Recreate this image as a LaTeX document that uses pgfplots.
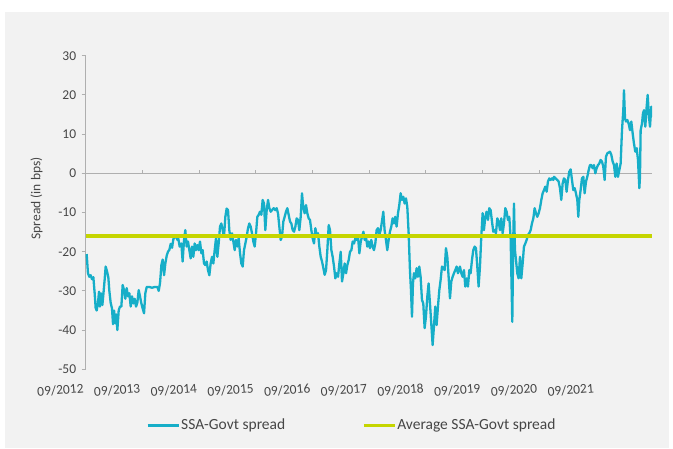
\documentclass[border=0pt]{standalone}
\usepackage{pgfplots}
\pgfplotsset{compat=1.18}
\usepackage{fontspec}
\setmainfont{Carlito}
\definecolor{panel}{RGB}{242,242,242}
\definecolor{ssacol}{RGB}{22,174,200}
\definecolor{avgcol}{RGB}{197,213,0}
\definecolor{txt}{RGB}{70,70,70}
\definecolor{axgray}{RGB}{175,175,175}
\pgfplotstableread{
t v
0.017 -20.6
0.040 -25.5
0.064 -26.4
0.088 -26.0
0.111 -27.0
0.135 -26.5
0.158 -30.6
0.176 -34.4
0.194 -35.0
0.217 -33.0
0.235 -30.2
0.252 -34.0
0.270 -30.6
0.294 -33.6
0.311 -31.0
0.335 -27.0
0.352 -23.8
0.376 -25.0
0.399 -26.5
0.417 -30.0
0.440 -33.0
0.464 -34.5
0.482 -38.5
0.500 -35.0
0.523 -38.3
0.541 -36.0
0.558 -40.0
0.582 -35.0
0.605 -34.0
0.629 -34.0
0.652 -28.5
0.676 -29.8
0.699 -32.0
0.723 -29.3
0.746 -31.4
0.770 -30.6
0.794 -34.0
0.817 -31.4
0.841 -33.2
0.864 -32.0
0.888 -34.0
0.911 -33.0
0.935 -29.8
0.958 -31.4
0.982 -33.2
1.005 -34.5
1.029 -35.7
1.052 -30.6
1.076 -29.0
1.123 -29.0
1.170 -29.2
1.217 -29.0
1.264 -29.0
1.288 -30.0
1.311 -28.0
1.335 -23.4
1.358 -22.0
1.382 -26.0
1.405 -23.0
1.429 -21.0
1.452 -20.0
1.476 -19.5
1.499 -18.0
1.523 -19.0
1.546 -16.8
1.570 -16.3
1.594 -16.0
1.617 -17.0
1.628 -16.2
1.657 -18.7
1.687 -17.9
1.710 -22.5
1.734 -17.0
1.757 -14.5
1.781 -18.7
1.804 -17.4
1.828 -19.6
1.851 -21.7
1.875 -18.7
1.898 -21.3
1.922 -17.9
1.946 -19.6
1.969 -18.3
1.993 -19.6
2.016 -17.4
2.040 -20.4
2.063 -19.6
2.087 -23.0
2.110 -23.4
2.134 -22.5
2.157 -24.7
2.181 -26.0
2.204 -23.0
2.228 -21.3
2.251 -23.0
2.275 -19.6
2.298 -16.6
2.322 -21.3
2.345 -17.9
2.369 -13.6
2.392 -12.8
2.416 -14.5
2.439 -16.2
2.463 -11.1
2.486 -9.0
2.510 -9.4
2.533 -14.5
2.557 -17.0
2.581 -15.3
2.604 -17.4
2.628 -19.6
2.651 -17.0
2.675 -18.7
2.698 -16.6
2.722 -20.4
2.745 -23.0
2.769 -23.8
2.792 -19.6
2.816 -17.9
2.839 -16.2
2.863 -14.0
2.886 -12.8
2.910 -13.6
2.933 -15.3
2.957 -17.4
2.980 -18.7
3.004 -15.3
3.027 -11.1
3.051 -10.6
3.074 -9.8
3.098 -10.6
3.121 -6.8
3.145 -7.7
3.168 -14.5
3.192 -9.4
3.216 -6.8
3.239 -8.9
3.263 -9.8
3.286 -9.4
3.315 -8.9
3.345 -9.4
3.368 -8.9
3.392 -10.2
3.415 -13.6
3.439 -17.0
3.462 -16.2
3.486 -12.3
3.509 -11.1
3.533 -9.8
3.556 -8.9
3.580 -10.6
3.604 -12.3
3.627 -12.8
3.651 -14.5
3.674 -14.9
3.698 -13.6
3.721 -11.5
3.745 -11.9
3.768 -14.5
3.792 -11.1
3.815 -5.1
3.839 -8.9
3.862 -10.2
3.886 -8.1
3.909 -10.2
3.933 -11.5
3.956 -11.9
3.980 -14.5
4.003 -16.6
4.027 -17.9
4.050 -14.0
4.074 -15.7
4.098 -15.3
4.121 -18.7
4.145 -21.3
4.168 -22.5
4.192 -24.2
4.215 -25.9
4.239 -24.7
4.262 -19.6
4.286 -13.2
4.309 -14.5
4.333 -19.6
4.356 -21.3
4.380 -23.8
4.403 -26.8
4.427 -25.5
4.451 -26.4
4.474 -23.0
4.498 -20.0
4.521 -27.6
4.545 -25.5
4.568 -23.0
4.592 -25.5
4.615 -23.4
4.639 -22.1
4.662 -20.0
4.686 -19.6
4.709 -17.4
4.733 -17.9
4.756 -16.6
4.780 -17.0
4.803 -16.2
4.827 -20.4
4.851 -17.4
4.874 -16.2
4.898 -14.9
4.921 -17.0
4.943 -16.2
4.967 -18.7
4.990 -17.4
5.014 -19.1
5.037 -17.0
5.061 -18.7
5.084 -19.6
5.108 -17.9
5.131 -14.5
5.155 -14.0
5.178 -15.7
5.202 -14.5
5.225 -12.3
5.249 -9.8
5.272 -14.5
5.296 -17.0
5.319 -19.6
5.343 -17.0
5.366 -14.9
5.390 -13.6
5.413 -11.5
5.437 -12.8
5.460 -11.1
5.484 -13.6
5.508 -10.2
5.531 -8.1
5.555 -5.1
5.578 -6.8
5.602 -6.0
5.625 -7.7
5.649 -6.4
5.672 -8.5
5.696 -15.3
5.719 -24.7
5.737 -29.8
5.755 -36.6
5.772 -28.1
5.790 -25.5
5.813 -26.8
5.837 -24.2
5.860 -26.4
5.884 -23.8
5.907 -26.4
5.931 -32.3
5.954 -33.2
5.978 -39.5
6.001 -36.6
6.025 -31.5
6.048 -28.1
6.072 -33.2
6.095 -38.3
6.119 -43.8
6.142 -39.1
6.166 -34.0
6.189 -38.7
6.213 -34.0
6.237 -29.8
6.260 -27.2
6.284 -23.8
6.307 -24.2
6.331 -24.7
6.354 -19.1
6.378 -21.3
6.401 -26.4
6.425 -31.9
6.448 -27.6
6.472 -26.4
6.495 -25.5
6.519 -24.7
6.542 -23.8
6.566 -25.5
6.590 -24.2
6.601 -23.8
6.625 -25.5
6.648 -26.4
6.672 -24.7
6.695 -28.9
6.719 -26.8
6.742 -28.9
6.766 -24.7
6.789 -25.5
6.813 -22.1
6.836 -19.6
6.860 -18.7
6.883 -19.1
6.907 -23.8
6.930 -28.9
6.954 -23.8
6.977 -16.2
7.001 -10.2
7.024 -14.5
7.048 -11.1
7.071 -9.8
7.095 -11.9
7.118 -8.9
7.142 -9.4
7.166 -12.3
7.189 -14.9
7.213 -14.5
7.236 -15.3
7.260 -11.5
7.283 -12.3
7.307 -14.5
7.330 -11.5
7.354 -15.3
7.377 -12.8
7.401 -8.9
7.424 -9.8
7.448 -11.9
7.471 -11.1
7.495 -16.6
7.513 -29.8
7.524 -37.9
7.542 -16.2
7.554 -7.7
7.571 -19.6
7.589 -22.1
7.612 -25.5
7.636 -26.8
7.660 -21.3
7.683 -26.8
7.707 -23.0
7.730 -18.7
7.754 -17.9
7.777 -17.0
7.801 -15.7
7.824 -15.3
7.848 -14.5
7.871 -12.8
7.895 -11.5
7.918 -8.9
7.942 -10.2
7.965 -11.1
7.989 -10.2
8.012 -8.9
8.036 -6.8
8.059 -5.1
8.083 -4.3
8.106 -3.4
8.130 -4.7
8.153 -2.1
8.177 -1.3
8.200 -1.7
8.224 -1.3
8.248 -1.7
8.259 -0.9
8.288 -1.3
8.318 -1.7
8.341 -2.1
8.365 -3.8
8.388 -6.8
8.412 -2.6
8.435 -1.3
8.459 -1.7
8.482 -4.7
8.506 -1.7
8.529 0.4
8.553 1.0
8.577 -1.7
8.600 -4.3
8.624 -3.8
8.647 -5.1
8.671 -6.8
8.688 -11.1
8.706 -6.8
8.729 -4.3
8.753 -1.3
8.777 -0.9
8.800 -5.1
8.824 -2.1
8.847 -0.9
8.871 0.8
8.894 2.1
8.918 2.1
8.941 1.3
8.965 2.1
8.988 0.0
9.012 1.3
9.035 2.1
9.059 2.5
9.082 3.4
9.106 3.0
9.129 1.7
9.153 -1.7
9.176 4.2
9.200 5.1
9.223 5.3
9.247 5.5
9.271 4.7
9.294 3.0
9.318 2.1
9.341 -0.9
9.365 2.5
9.388 -0.9
9.412 0.8
9.435 2.5
9.459 11.0
9.482 16.1
9.494 21.2
9.512 14.0
9.529 13.2
9.553 13.6
9.576 12.7
9.600 11.0
9.623 13.2
9.647 10.2
9.670 7.6
9.694 5.5
9.718 6.4
9.741 3.4
9.765 -3.8
9.776 -0.9
9.788 11.0
9.812 12.7
9.829 15.3
9.847 16.1
9.870 11.9
9.894 17.0
9.912 20.0
9.935 14.4
9.953 11.9
9.976 17.0
9.988 14.4
}\ssadata
\begin{document}
\begin{tikzpicture}
\fill[white] (0pt,0pt) rectangle (673pt,449pt);
\fill[panel] (5pt,1pt) rectangle (669pt,437pt);
\begin{axis}[
  at={(85.7pt,79.7pt)}, anchor=south west,
  scale only axis, width=566.4pt, height=313.6pt,
  xmin=0, xmax=9.99, ymin=-50, ymax=30,
  axis lines=left,
  axis line style={-, draw=axgray, line width=0.8pt},
  x axis line style={draw=none},
  xtick={0,1,2,3,4,5,6,7,8,9},
  xticklabels={09/2012,09/2013,09/2014,09/2015,09/2016,09/2017,09/2018,09/2019,09/2020,09/2021},
  xtick style={draw=none},
  xticklabel style={rotate=5, anchor=north east, yshift=-6pt, font=\fontsize{13.5}{15}\selectfont, text=txt},
  ytick={-50,-40,-30,-20,-10,0,10,20,30},
  ytick style={draw=axgray, line width=0.8pt},
  tick align=outside, major tick length=4pt,
  yticklabel style={font=\fontsize{13.5}{15}\selectfont, text=txt, xshift=-2pt},
  /pgf/number format/assume math mode=true,
  ylabel={Spread (in bps)},
  ylabel style={at={(axis description cs:-0.087,0.545)}, anchor=center, font=\fontsize{13.5}{15}\selectfont, text=txt},
  extra y ticks={0}, extra y tick labels={},
  extra y tick style={grid=major, major grid style={draw=axgray, line width=0.8pt}, tick style={draw=none}},
  legend style={at={(0.469,-0.178)}, anchor=center, draw=none, fill=none, legend columns=2,
    font=\fontsize{15.5}{17}\selectfont, text=txt,
    nodes={inner xsep=1pt},
    /tikz/every even column/.append style={column sep=76pt}},
  legend image code/.code={\draw[#1, line width=3pt] (0pt,0pt) -- (31pt,0pt);},
]
\pgfplotsinvokeforeach{1,...,9}{\draw[axgray, line width=0.8pt] (axis cs:#1,0) -- ([yshift=3pt]axis cs:#1,0);}
\addplot[ssacol, line width=2.3pt, line join=round, no markers] table[x=t, y=v] {\ssadata};
\addlegendentry{SSA-Govt spread}
\addplot[avgcol, line width=3.5pt, no markers] coordinates {(0,-16.0) (9.99,-16.0)};
\addlegendentry{Average SSA-Govt spread}
\end{axis}
\end{tikzpicture}
\end{document}
